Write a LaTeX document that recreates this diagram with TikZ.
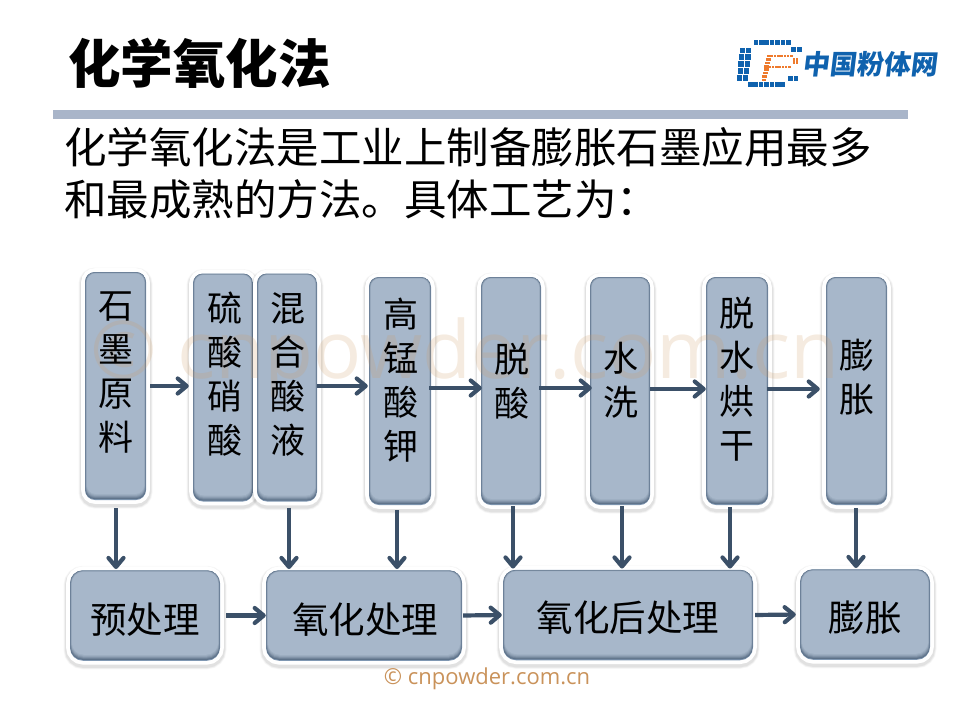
\documentclass[tikz,border=0pt]{standalone}
\usepackage{fontspec}
\setmainfont{Noto Sans CJK SC}
\newfontfamily\latinfont{Open Sans}
\usetikzlibrary{arrows.meta}
\definecolor{boxfill}{HTML}{A7B7CA}
\definecolor{boxedge}{HTML}{7F97B2}
\definecolor{boxlow}{HTML}{566B82}
\definecolor{flowline}{HTML}{3B5068}
\definecolor{barcol}{HTML}{A9B5C9}
\definecolor{markcol}{HTML}{CF9A62}
\definecolor{stampcol}{HTML}{C9925A}
\definecolor{logoblue}{HTML}{0F62AE}
\definecolor{logoorange}{HTML}{EE7A2C}
\tikzset{
  flowbox/.style={rounded corners=#1,fill=boxedge,inner sep=0pt,
    preaction={draw=black,opacity=.03,line width=13pt,transform canvas={yshift=-2pt}},
    preaction={draw=black,opacity=.04,line width=11.5pt,transform canvas={yshift=-2pt}},
    preaction={draw=black,opacity=.05,line width=10pt,transform canvas={yshift=-2pt}},
    preaction={draw=white,line width=7.6pt},
    % bevel: layered insets from the dark lower edge up to the flat face
    path picture={
      \foreach \k/\c in {1/90,2/68,3/46,4/26,5/12,6/0}
        \fill[boxlow!\c!boxfill,rounded corners=#1-1pt]
          ([shift={(\k*.3pt,\k*1pt)}]path picture bounding box.south west) rectangle
          ([shift={(-\k*.3pt,-\k*.25pt)}]path picture bounding box.north east);
    }},
  tallbox/.style={flowbox=10pt,minimum width=#1,minimum height=228pt},
  widebox/.style={flowbox=13pt,minimum width=#1,minimum height=90.5pt},
  vlabel/.style={align=center,inner sep=0pt,font=\fontsize{35}{44}\selectfont},
  hlabel/.style={inner sep=0pt,font=\fontsize{36.5}{36.5}\selectfont},
  flow/.style={draw=flowline,line width=4.2pt,
    -{Straight Barb[round,length=9pt,width=15pt,line width=4.2pt]}},
  logodot/.style={fill=logoblue},
  logodotb/.style={fill=logoorange}
}
\begin{document}
\begin{tikzpicture}[x=1pt,y=-1pt]
\useasboundingbox (0,0) rectangle (960,720);

% heading, rule and introductory text
\node[font=\fontsize{52.5}{52.5}\selectfont\bfseries,anchor=west,inner sep=0pt] (title) at (68,63) {化学氧化法};
\fill[barcol] (53,110) rectangle (908,119);
\node[font=\fontsize{42.5}{52}\selectfont,anchor=north west,align=left,inner sep=0pt] (intro) at (64,127)
  {化学氧化法是工业上制备膨胀石墨应用最多\\和最成熟的方法。具体工艺为：};

% company mark: dotted frame with an inner letter and the name beside it
\foreach \i in {0,...,6} \fill[logodot] ({753.5+\i*5.4},40) +(0,0) rectangle +(4.6,4.8);
\foreach \i in {0,...,6} \fill[logodot] ({748+\i*5.4},82) +(0,0) rectangle +(4.6,4.8);
\foreach \c in {0,1} \foreach \r in {0,...,4}
  \fill[logodot] ({740+\c*6.2-\r*.8},{47.5+\r*6.9}) +(0,0) rectangle +(5.2,5.7);
\foreach \c in {0,1} \fill[logodot] ({790.5+\c*6},47) +(0,0) rectangle +(5,4.8);
\foreach \c in {0,1} \fill[logodot] ({788+\c*5.6},76) +(0,0) rectangle +(4.8,4.8);
\foreach \i in {0,...,7} \fill[logodotb] ({767+\i*3.3},54.8) +(0,0) rectangle +(2.6,2.6);
\foreach \i in {0,...,7} \fill[logodotb] ({765+\i*3.3},65.5) +(0,0) rectangle +(2.6,2.6);
\foreach \c in {0,1,2} \foreach \r in {0,...,7}
  \fill[logodotb] ({766.5+\c*1.6-\r*.7},{54.8+\r*3.4}) +(0,0) rectangle +(1.6,2.6);
\foreach \c in {0,1} \foreach \r in {0,1} \fill[logodotb] ({792.5+\c*3.1},{58+\r*3.2}) +(0,0) rectangle +(2.6,2.6);
\node[font=\fontsize{27}{27}\selectfont\bfseries,text=logoblue,xslant=.12,inner sep=0pt] (logoname) at (871,64) {中国粉体网};

% process steps, upper row
\node[tallbox=61pt] (s1) at (115.5,386) {};
\node[tallbox=60pt] (s2) at (223,387.5) {};
\node[tallbox=60pt] (s3) at (287,387.5) {};
\node[tallbox=62pt] (s4) at (400,391) {};
\node[tallbox=60pt] (s5) at (511,391) {};
\node[tallbox=60pt] (s6) at (620,391) {};
\node[tallbox=62pt] (s7) at (737,391) {};
\node[tallbox=61pt] (s8) at (856.5,391) {};

% stage boxes, lower row
\node[widebox=150pt] (b1) at (145,615.5) {};
\node[widebox=196pt] (b2) at (364,615.5) {};
\node[widebox=250pt] (b3) at (628,615) {};
\node[widebox=130pt] (b4) at (865,614.5) {};

% faint notice lying over the process boxes
\node[font=\latinfont\fontsize{80}{80}\selectfont,text=markcol,opacity=.2,inner sep=0pt,anchor=base] (notice) at (465,378) {© cnpowder.com.cn};

% box captions
\node[vlabel] (t1) at (115.5,373) {石\\墨\\原\\料};
\node[vlabel] (t2) at (225,374) {硫\\酸\\硝\\酸};
\node[vlabel] (t3) at (288,374) {混\\合\\酸\\液};
\node[vlabel] (t4) at (401,380) {高\\锰\\酸\\钾};
\node[vlabel] (t5) at (512,381) {脱\\酸};
\node[vlabel] (t6) at (621,380) {水\\洗};
\node[vlabel] (t7) at (737,379) {脱\\水\\烘\\干};
\node[vlabel] (t8) at (857,377) {膨\\胀};
\node[hlabel] (c1) at (145,620) {预处理};
\node[hlabel] (c2) at (365,620) {氧化处理};
\node[hlabel] (c3) at (628,618) {氧化后处理};
\node[hlabel] (c4) at (865,618) {膨胀};

% horizontal lanes and vertical drop lines for the connectors
\coordinate (lanea) at (0,386);
\coordinate (laneb) at (0,388);
\coordinate (lanec) at (0,389);
\coordinate (drop1) at (116,0);
\coordinate (drop3) at (289,0);
\coordinate (drop4) at (397,0);
\coordinate (drop5) at (513,0);
\coordinate (drop6) at (622,0);
\coordinate (drop7) at (730,0);
\coordinate (drop8) at (856,0);

% connectors along the upper row
\draw[flow,shorten <=4pt,shorten >=4pt] (s1.east |- lanea) -- (s2.west |- lanea);
\draw[flow,shorten >=1pt] (s3.east |- lanea) -- (s4.west |- lanea);
\draw[flow,shorten <=-2pt,shorten >=-1pt] (s4.east |- laneb) -- (s5.west |- laneb);
\draw[flow,shorten <=-2pt,shorten >=-2pt] (s5.east |- laneb) -- (s6.west |- laneb);
\draw[flow] (s6.east |- lanec) -- (s7.west |- lanec);
\draw[flow,shorten <=-1pt,shorten >=6pt] (s7.east |- lanec) -- (s8.west |- lanec);

% connectors from the steps down to the stages
\draw[flow,shorten <=8pt,shorten >=1pt] (s1.south -| drop1) -- (b1.north -| drop1);
\draw[flow,shorten <=6pt,shorten >=1pt] (s3.south -| drop3) -- (b2.north -| drop3);
\draw[flow,shorten <=5pt,shorten >=1pt] (s4.south -| drop4) -- (b2.north -| drop4);
\draw[flow,shorten <=1pt,shorten >=1pt] (s5.south -| drop5) -- (b3.north -| drop5);
\draw[flow,shorten <=1pt,shorten >=1pt] (s6.south -| drop6) -- (b3.north -| drop6);
\draw[flow,shorten <=2pt,shorten >=1pt] (s7.south -| drop7) -- (b3.north -| drop7);
\draw[flow,shorten <=3pt,shorten >=1pt] (s8.south -| drop8) -- (b4.north -| drop8);

% connectors along the lower row
\draw[flow,shorten <=6pt] (b1.east) -- (b2.west);
\draw[flow,shorten <=1pt,shorten >=1pt] (b2.east) -- (b3.west);
\draw[flow,shorten <=2pt,shorten >=4pt] (b3.east) -- (b4.west);

% footer notice
\node[font=\latinfont\fontsize{22}{22}\selectfont,text=stampcol,inner sep=0pt] (stamp) at (487,679) {© cnpowder.com.cn};
\end{tikzpicture}
\end{document}
